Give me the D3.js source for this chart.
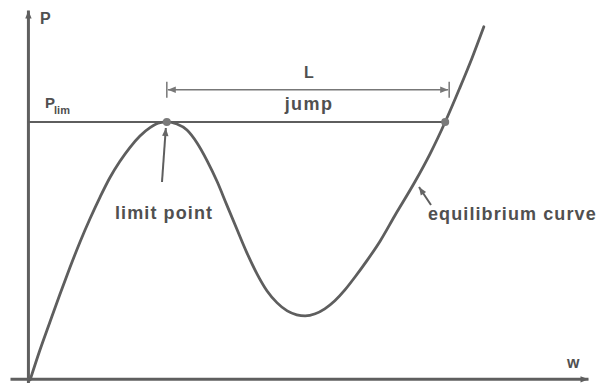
<!DOCTYPE html>
<html>
<head>
<meta charset="utf-8">
<script src="https://cdn.jsdelivr.net/npm/d3@7"></script>
<style>
  html, body { margin: 0; padding: 0; background: #fff; }
  svg { display: block; }
  text { font-family: "Liberation Sans", Arial, Helvetica, sans-serif; font-weight: bold; fill: #505050; }
</style>
</head>
<body>
<svg id="chart" width="602" height="383"></svg>
<script>
// Load–deflection equilibrium path (w, P) with a snap-through limit point
const curveW = [0.4, 2.1, 3.9, 5.7, 7.5, 9.3, 11.1, 12.9, 14.6, 16.4, 18.2, 20.0, 21.8, 23.6, 24.8,
  26.6, 28.4, 30.2, 32.0, 33.8, 35.5, 37.3, 39.1, 40.9, 42.7, 44.5, 46.3, 48.0, 49.5,
  51.3, 53.0, 54.8, 56.6, 58.4, 60.5, 62.9, 65.5, 69.1, 71.8, 74.5, 77.1, 79.3, 81.4];
const curveP = [0, 8.3, 16.4, 24.4, 32.1, 39.4, 46.1, 52.3, 57.7, 62.4, 66.4, 69.7, 72.1, 73.5, 73.7,
  73.1, 71.4, 67.7, 62.6, 56.6, 50.0, 43.1, 36.3, 30.3, 25.4, 22.0, 19.7, 18.6, 18.3,
  18.9, 20.3, 22.6, 25.7, 29.4, 34.0, 39.7, 46.9, 56.6, 64.6, 73.7, 83.4, 92.0, 100.9];

// Limit load and the two states joined by the jump
const pLim = 73.7;
const limitW = 24.8;
const landingW = 74.5;
const jumpArrowP = 82.9;

// Axis extents (data units)
const wExtent = [-3.2, 100];
const pExtent = [-0.9, 105.7];

// Labels
const axisLabelP = "P";
const axisLabelW = "w";
const limLabel = "P";
const limSub = "lim";
const spanLabel = "L";
const jumpLabel = "jump";
const limitLabel = "limit point";
const curveLabel = "equilibrium curve";

const ink = "#5e5e5e";
const svg = d3.select("#chart");

const x = d3.scaleLinear().domain(wExtent).range([10, 588]);
const y = d3.scaleLinear().domain(pExtent).range([383, 10]);

const defs = svg.append("defs");
function marker(id, w, h, color) {
  defs.append("marker")
    .attr("id", id)
    .attr("viewBox", "0 0 10 10")
    .attr("refX", 10).attr("refY", 5)
    .attr("markerWidth", w).attr("markerHeight", h)
    .attr("markerUnits", "userSpaceOnUse")
    .attr("orient", "auto-start-reverse")
    .append("path")
    .attr("d", "M0,1 L10,5 L0,9 Z")
    .attr("fill", color);
}
marker("axisHead", 10, 8, "#5f5f5f");
marker("dimHead", 13, 8, "#777");
marker("ptrHead", 9, 8, "#666");

// Axes: bare domain lines, no ticks
const gx = svg.append("g")
  .attr("transform", `translate(0,${y(0) - 1})`)
  .call(d3.axisBottom(x).tickValues([]).tickSizeOuter(0));
gx.select(".domain")
  .attr("stroke", "#5f5f5f").attr("stroke-width", 3)
  .attr("marker-end", "url(#axisHead)");

const gy = svg.append("g")
  .attr("transform", `translate(${x(0)},0)`)
  .call(d3.axisLeft(y).tickValues([]).tickSizeOuter(0));
gy.select(".domain")
  .attr("stroke", "#5f5f5f").attr("stroke-width", 3)
  .attr("marker-end", "url(#axisHead)");

// Horizontal limit-load line
svg.append("line")
  .attr("x1", x(0)).attr("x2", x(landingW))
  .attr("y1", y(pLim)).attr("y2", y(pLim))
  .attr("stroke", ink).attr("stroke-width", 2);

// Equilibrium curve
const pts = curveW.map((w, i) => [w, curveP[i]]);
const line = d3.line()
  .x(d => x(d[0])).y(d => y(d[1]))
  .curve(d3.curveMonotoneX);
svg.append("path")
  .attr("d", line(pts))
  .attr("fill", "none")
  .attr("stroke", ink)
  .attr("stroke-width", 2.8)
  .attr("stroke-linecap", "round")
  .attr("stroke-linejoin", "round");

// Jump dimension line with end ticks
const ja = y(jumpArrowP);
svg.append("line")
  .attr("x1", x(limitW) + 1).attr("x2", x(landingW) + 3)
  .attr("y1", ja).attr("y2", ja)
  .attr("stroke", "#777").attr("stroke-width", 1.5)
  .attr("marker-start", "url(#dimHead)")
  .attr("marker-end", "url(#dimHead)");
[limitW, landingW].forEach((w, i) => {
  const xx = x(w) + (i ? 4 : 0);
  svg.append("line")
    .attr("x1", xx).attr("x2", xx)
    .attr("y1", ja - 8).attr("y2", ja + 8)
    .attr("stroke", "#777").attr("stroke-width", 1.5);
});

// State points
[limitW, landingW].forEach(w => {
  svg.append("circle")
    .attr("cx", x(w)).attr("cy", y(pLim)).attr("r", 4)
    .attr("fill", "#7a7a7a");
});

// Pointer arrows
svg.append("line")
  .attr("x1", 162).attr("y1", 182)
  .attr("x2", x(limitW) - 1).attr("y2", y(pLim) + 6)
  .attr("stroke", ink).attr("stroke-width", 2)
  .attr("marker-end", "url(#ptrHead)");
svg.append("line")
  .attr("x1", 431).attr("y1", 205)
  .attr("x2", 419).attr("y2", 187)
  .attr("stroke", ink).attr("stroke-width", 2)
  .attr("marker-end", "url(#ptrHead)");

// Text
svg.append("text").attr("x", 40).attr("y", 24)
  .attr("font-size", 16).text(axisLabelP);
svg.append("text").attr("x", 567).attr("y", 368)
  .attr("font-size", 16).text(axisLabelW);

const lim = svg.append("text").attr("x", 45).attr("y", 108).attr("font-size", 15);
lim.append("tspan").text(limLabel);
lim.append("tspan").attr("dy", 6).attr("font-size", 11).attr("dx", -1).text(limSub);

const midJ = (x(limitW) + x(landingW)) / 2 + 3;
svg.append("text").attr("x", midJ).attr("y", 78)
  .attr("text-anchor", "middle").attr("font-size", 16).text(spanLabel);
svg.append("text").attr("x", midJ).attr("y", 110)
  .attr("text-anchor", "middle").attr("font-size", 18)
  .attr("letter-spacing", 1.4).text(jumpLabel);

svg.append("text").attr("x", 115).attr("y", 219)
  .attr("font-size", 18).attr("letter-spacing", 1.1).text(limitLabel);
svg.append("text").attr("x", 428).attr("y", 220)
  .attr("font-size", 18).attr("letter-spacing", 1.1).text(curveLabel);
</script>
</body>
</html>
